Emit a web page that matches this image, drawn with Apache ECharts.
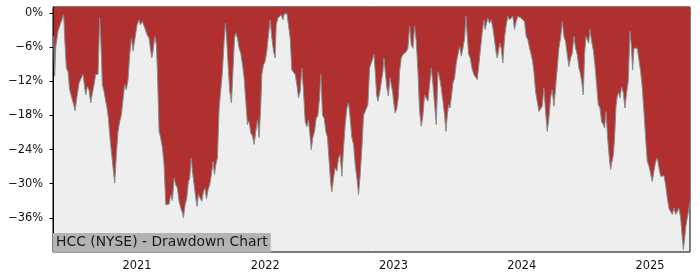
<!DOCTYPE html>
<html>
<head>
<meta charset="utf-8">
<script src="https://cdn.jsdelivr.net/npm/echarts@6.0.0/dist/echarts.min.js"></script>
<style>
html,body{margin:0;padding:0;background:#fff;}
#chart{width:700px;height:280px;}
</style>
</head>
<body>
<div id="chart"></div>
<script>
// x positions are decimal years
var dates = [
2020.350,2020.358,2020.366,2020.384,2020.402,2020.413,2020.428,2020.439,2020.449,2020.462,
2020.475,2020.491,2020.506,2020.517,2020.527,2020.548,2020.566,2020.579,2020.592,2020.600,
2020.613,2020.626,2020.639,2020.652,2020.665,2020.678,2020.696,2020.709,2020.717,2020.730,
2020.743,2020.756,2020.766,2020.777,2020.787,2020.800,2020.813,2020.826,2020.839,2020.852,
2020.865,2020.878,2020.891,2020.904,2020.917,2020.930,2020.943,2020.956,2020.969,2020.982,
2021.000,2021.016,2021.026,2021.042,2021.060,2021.078,2021.094,2021.104,2021.115,2021.125,
2021.138,2021.151,
2021.159,2021.172,2021.185,2021.198,2021.211,2021.224,2021.237,2021.250,2021.263,2021.276,
2021.289,2021.302,2021.315,2021.328,2021.341,2021.354,2021.362,2021.375,2021.388,2021.401,
2021.411,2021.422,2021.432,2021.445,2021.458,2021.468,2021.479,2021.492,2021.505,2021.518,
2021.531,2021.541,2021.554,2021.567,2021.580,2021.593,2021.604,2021.614,2021.627,2021.640,
2021.653,2021.666,2021.679,2021.689,2021.700,2021.713,2021.723,2021.736,2021.749,2021.760,
2021.770,2021.783,2021.796,2021.809,2021.822,2021.835,2021.848,2021.861,2021.874,2021.887,
2021.900,2021.913,2021.926,2021.939,2021.952,2021.965,
2021.973,2021.986,2021.999,2022.012,2022.025,2022.038,2022.051,2022.064,2022.077,2022.085,
2022.098,2022.111,2022.124,2022.137,2022.150,2022.168,2022.181,2022.194,2022.207,2022.220,
2022.233,2022.246,2022.259,2022.272,2022.285,2022.298,2022.311,2022.324,2022.337,2022.350,
2022.358,2022.371,2022.384,2022.397,2022.410,2022.423,2022.433,2022.446,2022.459,2022.472,
2022.485,2022.498,2022.511,2022.519,2022.532,2022.545,2022.558,2022.571,2022.584,2022.597,
2022.610,2022.623,2022.636,2022.649,2022.662,2022.675,2022.688,2022.701,2022.714,2022.727,
2022.740,2022.753,2022.766,
2022.800,2022.813,2022.826,2022.839,2022.847,2022.857,2022.868,2022.878,2022.891,2022.904,
2022.917,2022.925,2022.935,2022.948,2022.959,2022.972,2022.982,2022.992,2023.003,2023.013,
2023.026,2023.037,2023.047,2023.060,2023.073,2023.086,2023.099,2023.112,2023.125,2023.138,
2023.151,2023.164,2023.177,2023.190,2023.203,2023.216,2023.229,2023.242,2023.255,2023.268,
2023.281,2023.294,2023.307,2023.320,2023.333,2023.346,2023.359,2023.372,2023.385,2023.398,
2023.408,2023.419,2023.429,2023.440,2023.450,2023.463,2023.476,2023.489,2023.502,2023.515,
2023.528,2023.541,2023.554,2023.564,2023.575,2023.585,2023.598,2023.611,
2023.626,2023.639,2023.652,2023.665,2023.678,2023.691,2023.704,2023.714,2023.725,2023.735,
2023.748,2023.761,2023.774,2023.787,2023.798,2023.808,2023.818,2023.829,2023.839,2023.852,
2023.865,2023.878,2023.891,2023.904,2023.917,2023.930,2023.943,2023.956,2023.969,2023.982,
2023.995,2024.008,2024.021,2024.034,2024.047,2024.060,2024.073,2024.084,2024.094,2024.107,
2024.120,2024.133,2024.146,2024.159,2024.172,2024.185,2024.198,2024.211,2024.224,2024.237,
2024.250,2024.263,2024.276,2024.289,2024.302,2024.315,2024.328,2024.341,2024.354,2024.367,
2024.380,2024.393,2024.406,2024.419,2024.432,2024.445,
2024.453,2024.466,2024.479,2024.489,2024.500,2024.510,2024.521,2024.531,2024.544,2024.557,
2024.570,2024.583,2024.596,2024.609,2024.622,2024.635,2024.645,2024.656,2024.669,2024.682,
2024.692,2024.703,2024.713,2024.723,2024.734,2024.744,2024.755,2024.765,2024.778,2024.791,
2024.804,2024.817,2024.830,2024.843,2024.853,2024.864,2024.874,2024.887,2024.900,2024.913,
2024.926,2024.939,2024.952,2024.965,2024.978,2024.991,2025.004,2025.017,2025.030,2025.043,
2025.056,2025.069,2025.082,2025.095,2025.108,2025.121,2025.134,2025.147,2025.160,2025.173,
2025.186,2025.199,2025.212,2025.225,2025.238,2025.249,2025.259,2025.269,2025.280,2025.290,
2025.301,2025.311
];

// drawdown in percent
var drawdown = [
-4.1,-11.1,-6.1,-3.2,-2.0,-2.3,-0.3,-5.6,-9.7,-10.3,
-13.5,-14.9,-16.1,-17.2,-15.5,-12.3,-11.4,-10.8,-11.1,-14.4,
-12.9,-13.6,-15.8,-14.1,-12.6,-10.8,-10.8,-0.9,-4.4,-12.6,
-13.8,-15.5,-16.7,-18.5,-21.4,-24.3,-27.2,-29.9,-24.9,-20.8,
-19.1,-17.9,-15.2,-12.6,-13.5,-11.7,-7.3,-4.4,-6.7,-6.5,
-2.1,-1.2,-2.1,-1.5,-2.6,-3.8,-4.4,-6.2,-7.9,-6.7,
-4.1,-5.6,
-10.3,-20.8,-22.0,-23.7,-26.7,-33.7,-33.7,-33.6,-31.9,-33.0,
-29.0,-30.2,-30.8,-33.1,-34.3,-35.1,-36.0,-33.7,-32.5,-29.6,
-29.0,-25.5,-27.8,-30.2,-32.5,-34.0,-31.9,-31.6,-33.1,-31.4,
-30.8,-32.7,-31.1,-30.2,-28.4,-26.1,-28.4,-26.7,-25.5,-16.7,
-16.4,-10.3,-5.0,-1.8,-5.0,-10.3,-13.8,-15.8,-9.7,-4.4,
-3.5,-4.4,-6.2,-7.1,-9.1,-11.4,-15.5,-19.6,-19.0,-21.1,
-21.6,-23.1,-20.8,-18.8,-21.9,-16.1,
-10.8,-9.1,-8.5,-6.7,-3.8,-1.2,-4.4,-6.7,-7.9,-2.1,
-0.9,-0.6,-0.3,-1.2,0,0,-0.3,-4.4,-10.0,-10.3,
-10.8,-12.6,-14.9,-13.8,-9.7,-13.8,-19.1,-20.0,-18.8,-21.9,
-24.0,-21.9,-20.8,-18.5,-18.0,-14.9,-10.8,-18.0,-18.5,-20.8,
-21.9,-26.1,-30.2,-31.4,-29.0,-27.2,-27.8,-25.5,-24.9,-28.7,
-23.7,-19.6,-16.7,-15.8,-18.5,-21.9,-23.1,-26.7,-29.0,-31.9,
-28.4,-23.7,-18.0,
-16.1,-9.7,-8.8,-7.9,-7.3,-10.3,-14.4,-15.5,-14.1,-14.1,
-10.3,-7.9,-10.3,-13.2,-14.6,-11.4,-11.1,-13.8,-16.1,-17.6,
-16.7,-14.9,-10.3,-7.9,-7.3,-7.0,-6.8,-6.2,-2.3,-5.6,
-6.2,-2.3,-5.0,-10.3,-17.3,-19.9,-18.0,-14.4,-15.0,-15.5,
-12.6,-9.7,-12.6,-16.1,-19.6,-10.3,-11.4,-13.2,-15.5,-18.0,
-20.8,-18.0,-16.1,-16.7,-14.9,-12.3,-11.4,-8.8,-7.3,-5.9,
-7.6,-6.2,-4.4,-0.6,-0.3,-7.3,-7.9,-9.7,
-10.8,-11.1,-11.7,-9.1,-6.2,-3.5,-1.2,-2.9,-1.8,-0.9,
-1.8,-1.2,-2.6,-4.7,-6.7,-7.9,-6.7,-5.3,-6.2,-8.8,
-4.4,-2.1,-0.6,-1.2,-0.9,-0.6,-2.9,-1.5,-0.6,-0.3,
-0.9,-0.6,-1.5,-4.1,-4.7,-6.2,-7.3,-8.5,-10.3,-13.8,
-15.5,-17.3,-17.0,-16.4,-13.2,-17.3,-20.8,-18.5,-14.9,-13.5,
-16.4,-13.2,-9.7,-6.2,-4.4,-1.5,-4.1,-5.0,-7.3,-9.4,
-7.9,-7.1,-4.1,-6.2,-7.3,-9.7,
-10.3,-11.9,-14.4,-7.3,-4.1,-4.4,-5.3,-2.9,-5.0,-6.5,
-9.1,-12.6,-16.1,-16.7,-19.1,-19.6,-20.2,-17.3,-22.0,-25.5,
-27.5,-26.1,-25.0,-22.0,-16.4,-14.6,-14.0,-14.9,-13.0,-14.0,
-16.7,-14.0,-11.9,-3.2,-5.6,-10.0,-6.2,-5.9,-6.2,-6.5,
-10.3,-13.2,-17.3,-22.0,-26.1,-26.9,-27.2,-29.6,-27.8,-26.1,
-25.5,-27.2,-28.7,-28.4,-28.6,-30.2,-32.5,-34.3,-34.9,-35.4,
-34.3,-35.4,-34.9,-34.3,-36.0,-39.0,-41.6,-39.6,-37.3,-36.0,
-34.6,-33.2
];

var xTicks = [2021, 2022, 2023, 2024, 2025];
var yTicks = [0, -6, -12, -18, -24, -30, -36];
var chartTitle = 'HCC (NYSE) - Drawdown Chart';

var seriesData = dates.map(function (d, i) { return [d, drawdown[i]]; });

var chart = echarts.init(document.getElementById('chart'), null, {renderer: 'canvas'});
var font = 'DejaVu Sans';
chart.setOption({
  animation: false,
  backgroundColor: '#ffffff',
  title: {
    text: chartTitle,
    left: 53,
    top: 233,
    padding: [1, 3, 1, 3],
    backgroundColor: '#b3b3b3',
    textStyle: {fontFamily: font, fontSize: 13.9, fontWeight: 'normal', color: '#1a1a1a', lineHeight: 17.6}
  },
  grid: {
    left: 53, right: 10, top: 7, bottom: 28,
    show: true, backgroundColor: '#eeeeee', borderColor: '#000', borderWidth: 1
  },
  xAxis: {
    type: 'value',
    min: 2020.345,
    max: 2025.311,
    axisLine: {show: true, lineStyle: {color: '#000', width: 1}},
    axisTick: {show: true, length: 3.5, lineStyle: {color: '#000'}, customValues: xTicks},
    axisLabel: {
      customValues: xTicks, margin: 8.5, color: '#111', fontFamily: font, fontSize: 11.4,
      formatter: function (v) { return String(Math.round(v)); }
    },
    splitLine: {show: false}
  },
  yAxis: {
    type: 'value',
    min: -42,
    max: 1.05,
    axisLine: {show: true, lineStyle: {color: '#000', width: 1}},
    axisTick: {show: true, length: 3.5, lineStyle: {color: '#000'}, customValues: yTicks},
    axisLabel: {
      customValues: yTicks, margin: 10, color: '#111', fontFamily: font, fontSize: 11.4,
      formatter: function (v) { var r = Math.round(v); return (r < 0 ? '\u2212' + (-r) : String(r)) + '%'; }
    },
    splitLine: {show: false}
  },
  series: [{
    type: 'line',
    data: seriesData,
    showSymbol: false,
    symbol: 'none',
    clip: true,
    lineStyle: {color: '#858d8d', width: 1},
    areaStyle: {color: '#b03030', opacity: 1, origin: 'end'},
    z: 2
  }]
});
</script>
</body>
</html>
